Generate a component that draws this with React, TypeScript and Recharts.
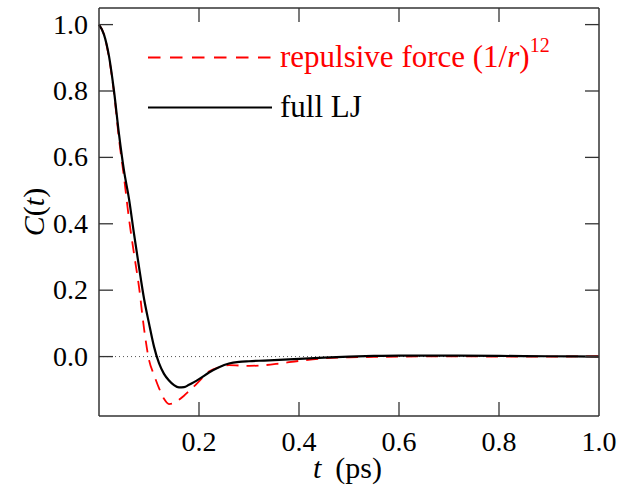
import React from "react";
import { LineChart, Line, XAxis, YAxis, ReferenceLine } from "recharts";

// time axis (ps)
const tValues = [
  0, 0.01, 0.02, 0.03, 0.04, 0.05, 0.06, 0.07, 0.08, 0.09, 0.1, 0.11, 0.12, 0.13, 0.14, 0.15, 0.16, 0.17,
  0.18, 0.19, 0.2, 0.22, 0.24, 0.26, 0.28, 0.3, 0.33, 0.36, 0.4, 0.45, 0.5, 0.55, 0.6, 0.7, 0.8, 0.9, 1.0,
];

// full Lennard-Jones
const fullLJ = [
  1.0, 0.97, 0.905, 0.8, 0.67, 0.56, 0.475, 0.37, 0.27, 0.175, 0.1, 0.03, -0.02, -0.052, -0.072, -0.086, -0.093,
  -0.092, -0.085, -0.077, -0.068, -0.048, -0.032, -0.021, -0.016, -0.014, -0.012, -0.01, -0.007, -0.003, 0.0,
  0.002, 0.003, 0.003, 0.002, 0.001, 0.0,
];

// repulsive part only, (1/r)^12
const repulsive = [
  1.0, 0.97, 0.9, 0.795, 0.655, 0.54, 0.415, 0.31, 0.21, 0.085, -0.01, -0.055, -0.095, -0.127, -0.143, -0.14,
  -0.13, -0.118, -0.104, -0.09, -0.075, -0.045, -0.032, -0.026, -0.027, -0.028, -0.026, -0.021, -0.013, -0.005,
  -0.002, -0.001, 0.0, 0.001, 0.0, 0.0, 0.001,
];

const xLabelTicks = [0.2, 0.4, 0.6, 0.8, 1.0];
const xTopTicks = [0.2, 0.4, 0.6, 0.8];
const yTicks = [0, 0.2, 0.4, 0.6, 0.8, 1.0];

const data = tValues.map((t, i) => ({ t, lj: fullLJ[i], rep: repulsive[i] }));

const FONT = "'Liberation Serif', 'Times New Roman', serif";
const TICK_LEN = 14;
const FRAME = "#333";

function BottomTick(props: any) {
  const { x, y, payload } = props;
  return (
    <g>
      {payload.value < 1 && <line x1={x} y1={y} x2={x} y2={y - TICK_LEN} stroke={FRAME} strokeWidth={1.3} />}
      <text x={x} y={y + 35} textAnchor="middle" fontFamily={FONT} fontSize={28} fill="#000">
        {payload.value.toFixed(1)}
      </text>
    </g>
  );
}

function TopTick(props: any) {
  const { x, y } = props;
  return <line x1={x} y1={y} x2={x} y2={y + TICK_LEN} stroke={FRAME} strokeWidth={1.3} />;
}

function LeftTick(props: any) {
  const { x, y, payload } = props;
  return (
    <g>
      <line x1={x} y1={y} x2={x + TICK_LEN} y2={y} stroke={FRAME} strokeWidth={1.3} />
      <text x={x - 11} y={y + 9} textAnchor="end" fontFamily={FONT} fontSize={28} fill="#000">
        {payload.value.toFixed(1)}
      </text>
    </g>
  );
}

function RightTick(props: any) {
  const { x, y } = props;
  return <line x1={x} y1={y} x2={x - TICK_LEN} y2={y} stroke={FRAME} strokeWidth={1.3} />;
}

export default function App() {
  return (
    <div style={{ position: "absolute", left: 0, top: 0, background: "#fff" }}>
      <LineChart width={620} height={491} data={data} margin={{ top: 7, right: 20, bottom: 74, left: 98 }}>
        <XAxis
          xAxisId="bottom"
          dataKey="t"
          type="number"
          domain={[0, 1]}
          ticks={xLabelTicks}
          height={1}
          tickSize={0}
          tickMargin={0}
          tickLine={false}
          tick={<BottomTick />}
          axisLine={{ stroke: FRAME, strokeWidth: 1.5 }}
          interval={0}
        />
        <XAxis
          xAxisId="top"
          orientation="top"
          dataKey="t"
          type="number"
          domain={[0, 1]}
          ticks={xTopTicks}
          height={1}
          tickSize={0}
          tickMargin={0}
          tickLine={false}
          tick={<TopTick />}
          axisLine={{ stroke: FRAME, strokeWidth: 1.5 }}
          interval={0}
        />
        <YAxis
          yAxisId="left"
          type="number"
          domain={[-0.179, 1.05]}
          allowDataOverflow
          ticks={yTicks}
          width={1}
          tickSize={0}
          tickMargin={0}
          tickLine={false}
          tick={<LeftTick />}
          axisLine={{ stroke: FRAME, strokeWidth: 1.5 }}
          interval={0}
        />
        <YAxis
          yAxisId="right"
          orientation="right"
          type="number"
          domain={[-0.179, 1.05]}
          allowDataOverflow
          ticks={yTicks}
          width={1}
          tickSize={0}
          tickMargin={0}
          tickLine={false}
          tick={<RightTick />}
          axisLine={{ stroke: FRAME, strokeWidth: 1.5 }}
          interval={0}
        />
        <ReferenceLine
          xAxisId="bottom"
          yAxisId="left"
          y={0}
          stroke="#555"
          strokeWidth={1}
          strokeDasharray="1 3"
        />
        <Line
          xAxisId="bottom"
          yAxisId="left"
          type="monotone"
          dataKey="rep"
          stroke="#ff0000"
          strokeWidth={1.8}
          strokeDasharray="12 8"
          dot={false}
          activeDot={false}
          isAnimationActive={false}
        />
        <Line
          xAxisId="bottom"
          yAxisId="left"
          type="monotone"
          dataKey="lj"
          stroke="#000"
          strokeWidth={2.2}
          dot={false}
          activeDot={false}
          isAnimationActive={false}
        />
        <g fontFamily={FONT} fontSize={31}>
          <line x1={148} y1={57.5} x2={272} y2={57.5} stroke="#ff0000" strokeWidth={1.8} strokeDasharray="12.5 9.5" />
          <text x={280} y={67} fill="#ff0000">
            repulsive force (1/<tspan fontStyle="italic">r</tspan>)
            <tspan dy={-15} fontSize={20}>
              12
            </tspan>
          </text>
          <line x1={148} y1={107.5} x2={272} y2={107.5} stroke="#000" strokeWidth={2.2} />
          <text x={280} y={117} fill="#000">
            full LJ
          </text>
          <text x={313} y={478} fontSize={30} fill="#000">
            <tspan fontStyle="italic">t</tspan>
            <tspan dx={14}>(ps)</tspan>
          </text>
          <text x={44} y={212} textAnchor="middle" fontSize={30} fill="#000" transform="rotate(-90, 44, 212)">
            <tspan fontStyle="italic">C</tspan>(<tspan fontStyle="italic">t</tspan>)
          </text>
        </g>
      </LineChart>
    </div>
  );
}
